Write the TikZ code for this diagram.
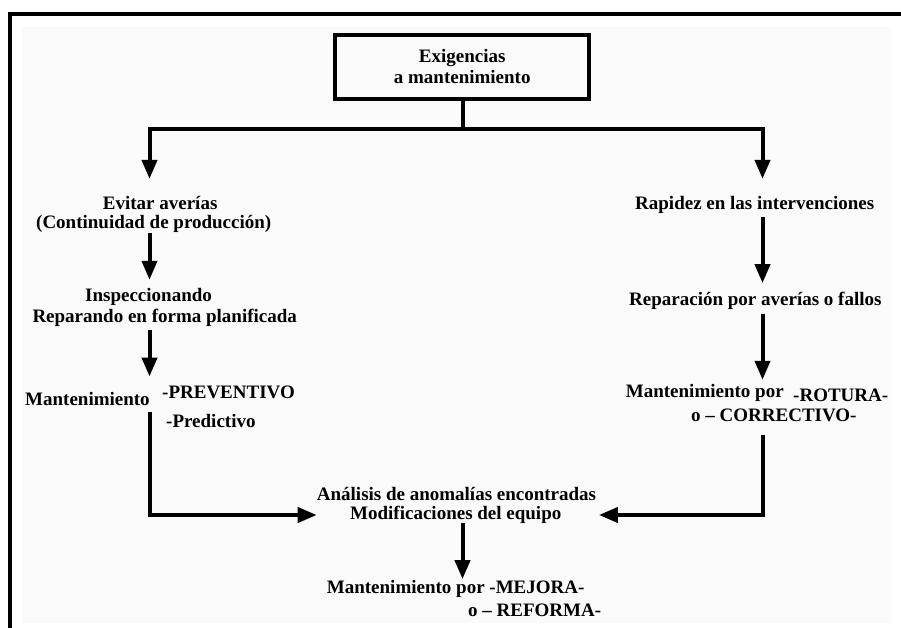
\documentclass[tikz,border=0pt]{standalone}
\usepackage{fontspec}
\setmainfont{Liberation Serif}
\usetikzlibrary{arrows.meta}
\definecolor{panel}{RGB}{250,250,250}
\begin{document}
\begin{tikzpicture}[x=1pt,y=-1pt,
  txt/.style={inner sep=0pt, anchor=base west,
    font=\fontsize{19pt}{21pt}\selectfont\bfseries,
    text height=14pt, text depth=4pt},
  conn/.style={line width=4pt, line join=miter},
  arr/.style={conn, -{Triangle[length=19pt,width=15pt]}},
]
\useasboundingbox (0,0) rectangle (901,628);
% page panel and frame
\fill[panel] (22,27) rectangle (891,623);
\draw[line width=4.2pt, line join=miter] (9.8,628) -- (9.8,14) -- (901,14);

% title box
\node[draw, line width=4pt, minimum width=253.7pt, minimum height=64pt,
      inner sep=0pt, align=center,
      font=\fontsize{19pt}{21.3pt}\selectfont\bfseries] (box) at (462.2,66.7)
      {Exigencias\\a mantenimiento};

% left branch
\node[inner sep=0pt, anchor=west, align=left,
      font=\fontsize{19pt}{18.6pt}\selectfont\bfseries] (evitar) at (36,214.7)
      {\hspace*{66.7pt}Evitar averías\\(Continuidad de producción)};
\node[txt] (inspA)   at (85,301)      {Inspeccionando};
\node[txt] (inspB)   at (32.3,322.7)  {Reparando en forma planificada};
\node[txt] (mantL)   at (25,405)      {Mantenimiento};
\node[txt] (prev)    at (162,398.3)   {-PREVENTIVO};
\node[txt] (pred)    at (166,427.3)   {-Predictivo};

% right branch
\node[txt] (rapidez) at (635,210)     {Rapidez en las intervenciones};
\node[txt] (repar)   at (629,305)     {Reparación por averías o fallos};
\node[txt] (mantR)   at (625.7,397.7) {Mantenimiento por};
\node[txt] (rotura)  at (793,401)     {-ROTURA-};
\node[txt] (correct) at (691,421.7)   {o – CORRECTIVO-};

% common result
\node[txt] (analA)   at (316.7,500)   {Análisis de anomalías encontradas};
\node[txt] (analB)   at (350,519)     {Modificaciones del equipo};
\node[txt] (mejora)  at (326.7,593.3) {Mantenimiento por -MEJORA-};
\node[txt] (reforma) at (468,616.7)   {o – REFORMA-};

% connector columns and rows
\coordinate (split) at (462.7,129.5);
\coordinate (colL) at (149.5,0);
\coordinate (colR) at (762.5,0);
\coordinate (colM) at (462.5,0);
\coordinate (merge) at (0,515);

\draw[conn] (box.south -| split) -- (split);
\draw[arr, shorten >=17.7pt] (split) -| (colL |- evitar.north);
\draw[arr, shorten >=17pt] (split) -| (colR |- rapidez.north);

\draw[arr, shorten <=0.4pt, shorten >=7pt] (evitar.south -| colL) -- (inspA.north -| colL);
\draw[arr, shorten <=3.3pt, shorten >=14.3pt] (inspB.south -| colL) -- (mantL.north -| colL);
\draw[arr, shorten <=2.7pt] (mantL.south -| colL) |- (analA.west |- merge);

\draw[arr, shorten <=2.7pt, shorten >=7.7pt] (rapidez.south -| colR) -- (repar.north -| colR);
\draw[arr, shorten <=4.3pt, shorten >=3.7pt] (repar.south -| colR) -- (mantR.north -| colR);
\draw[arr, shorten <=9.3pt, shorten >=2.6pt] (correct.south -| colR) |- (analA.east |- merge);

\draw[arr] (analB.south -| colM) -- (mejora.north -| colM);
\end{tikzpicture}
\end{document}
